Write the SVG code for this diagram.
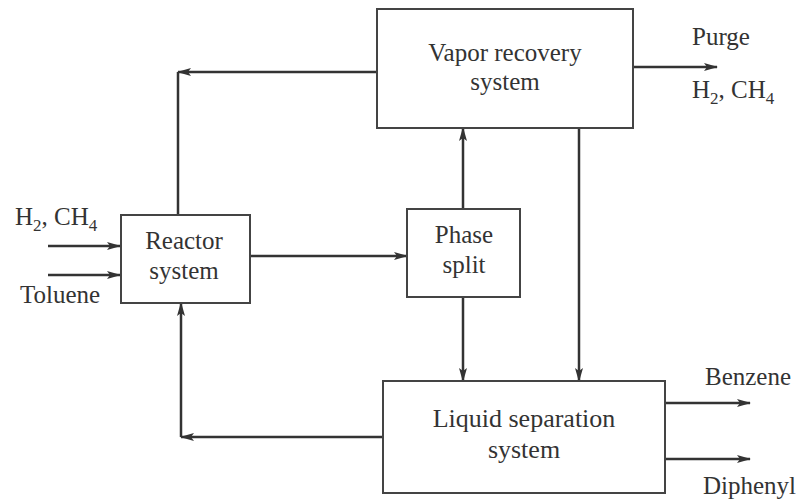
<svg xmlns="http://www.w3.org/2000/svg" width="802" height="500" viewBox="0 0 802 500">
<defs>
<marker id="ah" markerUnits="userSpaceOnUse" markerWidth="14" markerHeight="10" refX="13" refY="4" orient="auto">
<path d="M0,0 L14,4 L0,8 L3,4 z" fill="#333"/>
</marker>
<style>
.box{fill:#fff;stroke:#444;stroke-width:2}
.ln{fill:none;stroke:#333;stroke-width:2.5}
.arr{fill:none;stroke:#333;stroke-width:2.5;marker-end:url(#ah)}
text{font-family:"Liberation Serif","Times New Roman",serif;font-size:25px;fill:#333}
.c{text-anchor:middle}
.big{font-size:26px}
.sub{font-size:17px}
</style>
</defs>
<rect width="802" height="500" fill="#fff"/>
<g id="connectors">
<path class="arr" d="M48,246 H120"/>
<path class="arr" d="M48,275 H120"/>
<path class="arr" d="M377,72 H178"/>
<path class="ln" d="M178,72 V215"/>
<path class="arr" d="M250,256 H407"/>
<path class="arr" d="M463,209 V128"/>
<path class="arr" d="M463,297 V381"/>
<path class="arr" d="M579,128 V381"/>
<path class="arr" d="M633,67 H717"/>
<path class="arr" d="M383,437 H181"/>
<path class="arr" d="M181,437 V303"/>
<path class="arr" d="M665,403 H750"/>
<path class="arr" d="M665,459 H750"/>
</g>
<g id="vapor">
<rect class="box" x="377" y="9" width="256" height="119"/>
<text class="c" x="505" y="61">Vapor recovery</text>
<text class="c" x="505" y="90">system</text>
</g>
<g id="reactor">
<rect class="box" x="121" y="215" width="129" height="88"/>
<text class="c" x="184" y="249">Reactor</text>
<text class="c" x="184" y="279">system</text>
</g>
<g id="phase">
<rect class="box" x="407" y="209" width="113" height="88"/>
<text class="c" x="464" y="243">Phase</text>
<text class="c" x="464" y="273">split</text>
</g>
<g id="liquid">
<rect class="box" x="383" y="381" width="282" height="112"/>
<text class="c big" x="524" y="427">Liquid separation</text>
<text class="c big" x="524" y="458">system</text>
</g>
<g id="labels">
<text x="15" y="225">H<tspan class="sub" dy="6">2</tspan><tspan dy="-6">, CH</tspan><tspan class="sub" dy="6">4</tspan></text>
<text x="20" y="303">Toluene</text>
<text x="692" y="45">Purge</text>
<text x="692" y="98">H<tspan class="sub" dy="6">2</tspan><tspan dy="-6">, CH</tspan><tspan class="sub" dy="6">4</tspan></text>
<text x="705" y="385">Benzene</text>
<text x="703" y="494">Diphenyl</text>
</g>
</svg>
